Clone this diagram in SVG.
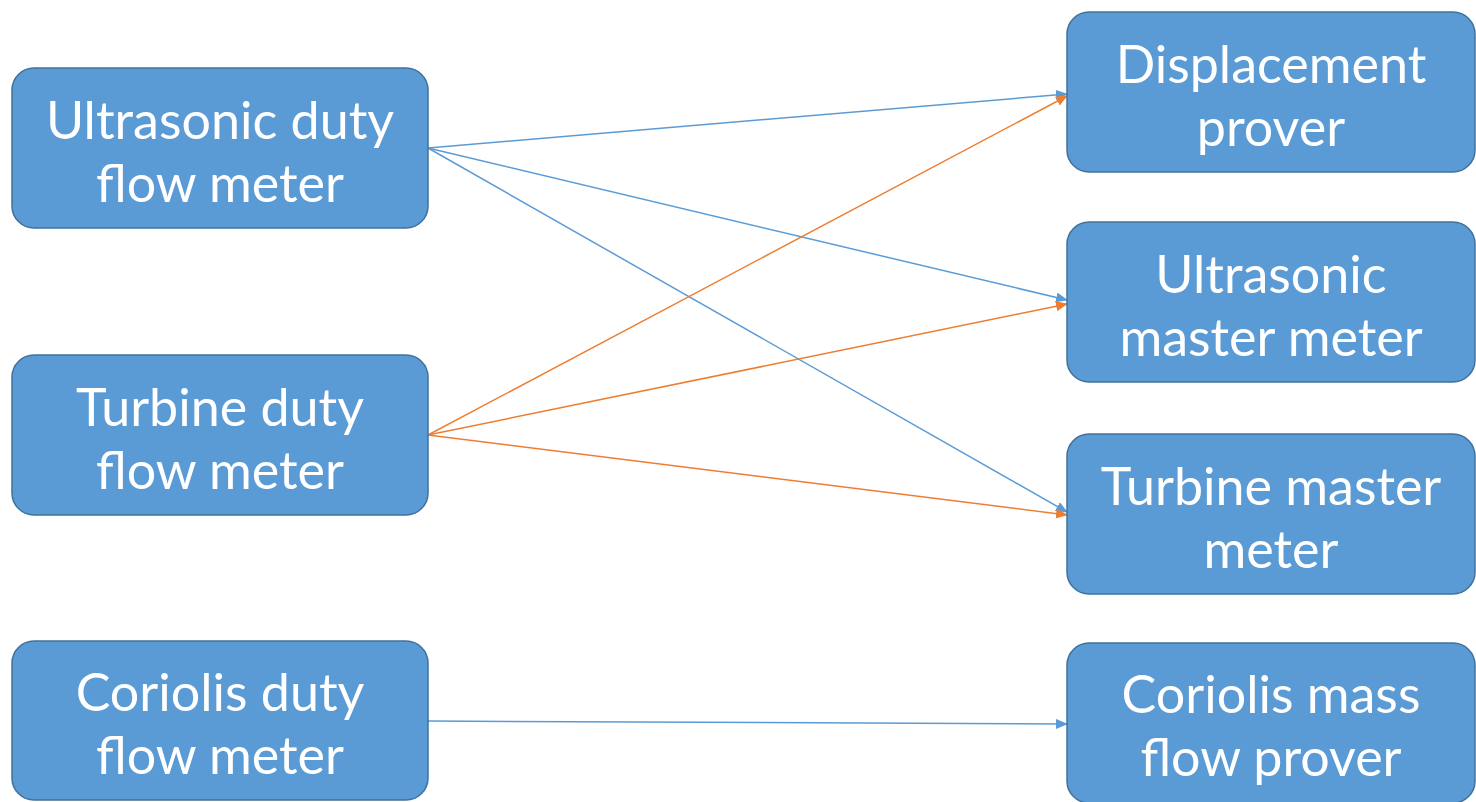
<svg xmlns="http://www.w3.org/2000/svg" width="1476" height="802" viewBox="0 0 1476 802">
<style>
.box{fill:#5B9BD5;stroke:#41719C;stroke-width:1.5}
.t{font-family:Lato,"Open Sans",sans-serif;font-size:52px;fill:#ffffff;text-anchor:middle}
.b{stroke:#5B9BD5;stroke-width:1.5;fill:none;marker-end:url(#ab)}
.o{stroke:#ED7D31;stroke-width:1.5;fill:none;marker-end:url(#ao)}
</style>
<defs>
<marker id="ab" markerWidth="12" markerHeight="10" refX="11" refY="5" orient="auto" markerUnits="userSpaceOnUse"><path d="M0,0 L12,5 L0,10 Z" fill="#5B9BD5"/></marker>
<marker id="ao" markerWidth="12" markerHeight="10" refX="11" refY="5" orient="auto" markerUnits="userSpaceOnUse"><path d="M0,0 L12,5 L0,10 Z" fill="#ED7D31"/></marker>
</defs>
<rect width="1476" height="802" fill="#ffffff"/>
<g id="connectors">
<line class="b" x1="428" y1="148" x2="1067" y2="94"/>
<line class="b" x1="428" y1="148" x2="1067" y2="300"/>
<line class="b" x1="428" y1="148" x2="1067" y2="512"/>
<line class="o" x1="428" y1="435" x2="1067" y2="96"/>
<line class="o" x1="428" y1="435" x2="1067" y2="304"/>
<line class="o" x1="428" y1="435" x2="1067" y2="515"/>
<line class="b" x1="428" y1="721" x2="1067" y2="724"/>
</g>
<g id="n1"><rect class="box" x="12" y="68" width="416" height="160" rx="22"/><text class="t" x="220" y="139">Ultrasonic duty</text><text class="t" x="220" y="202">flow meter</text></g>
<g id="n2"><rect class="box" x="12" y="355" width="416" height="160" rx="22"/><text class="t" x="220" y="426">Turbine duty</text><text class="t" x="220" y="489">flow meter</text></g>
<g id="n3"><rect class="box" x="12" y="641" width="416" height="159" rx="22"/><text class="t" x="220" y="711">Coriolis duty</text><text class="t" x="220" y="774">flow meter</text></g>
<g id="n4"><rect class="box" x="1067" y="12" width="408" height="160" rx="22"/><text class="t" x="1271" y="83">Displacement</text><text class="t" x="1271" y="146">prover</text></g>
<g id="n5"><rect class="box" x="1067" y="222" width="408" height="160" rx="22"/><text class="t" x="1271" y="293">Ultrasonic</text><text class="t" x="1271" y="356">master meter</text></g>
<g id="n6"><rect class="box" x="1067" y="434" width="408" height="160" rx="22"/><text class="t" x="1271" y="505">Turbine master</text><text class="t" x="1271" y="568">meter</text></g>
<g id="n7"><rect class="box" x="1067" y="643" width="408" height="160" rx="22"/><text class="t" x="1271" y="713">Coriolis mass</text><text class="t" x="1271" y="776">flow prover</text></g>
</svg>
